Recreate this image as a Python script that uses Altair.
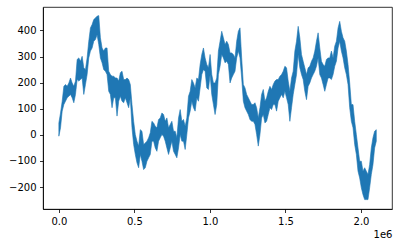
import altair as alt
import pandas as pd

# sample positions (thousands of steps)
step_k = [
    0, 11, 22, 33, 44, 55, 66, 77, 88, 99, 110, 121, 132, 143, 154, 165, 176, 187, 198, 209,
    220, 231, 242, 253, 264, 275, 286, 297, 308, 319, 330, 341, 352, 363, 374, 385, 396, 407, 418, 429,
    440, 451, 462, 473, 484, 495, 506, 517, 528, 539, 550, 561, 572, 583, 594, 605, 616, 627, 638, 649,
    660, 671, 682, 693, 704, 715, 726, 737, 748, 759, 770, 781, 792, 803, 814, 825, 836, 847, 858, 869,
    880, 891, 902, 913, 924, 935, 946, 957, 968, 979, 990, 1001, 1012, 1023, 1034, 1045, 1056, 1067, 1078, 1089,
    1100, 1111, 1122, 1133, 1144, 1155, 1166, 1177, 1188, 1199, 1210, 1221, 1232, 1243, 1254, 1265, 1276, 1287, 1298, 1309,
    1320, 1331, 1342, 1353, 1364, 1375, 1386, 1397, 1408, 1419, 1430, 1441, 1452, 1463, 1474, 1485, 1496, 1507, 1518, 1529,
    1540, 1551, 1562, 1573, 1584, 1595, 1606, 1617, 1628, 1639, 1650, 1661, 1672, 1683, 1694, 1705, 1716, 1727, 1738, 1749,
    1760, 1771, 1782, 1793, 1804, 1815, 1826, 1837, 1848, 1859, 1870, 1881, 1892, 1903, 1914, 1925, 1936, 1947, 1958, 1969,
    1980, 1991, 2002, 2013, 2024, 2035, 2046, 2057, 2068, 2079, 2090, 2101,
]

# upper envelope of the walk in each sample window
walk_hi = [
    46, 84, 129, 186, 193, 186, 199, 218, 199, 186, 206, 289, 295, 282, 301, 257, 250, 295, 359, 410,
    423, 442, 448, 455, 457, 372, 333, 321, 333, 333, 244, 231, 225, 225, 218, 218, 206, 238, 244, 212,
    212, 218, 212, 193, 116, 52, 1, -24,
    -43, 20, 14, -37, -31, -24, -11, 8, 52, 46, 33, 27, 59, 65, 84, 78, 52, 65, 27, 40,
    52, 14, 14, -11, 65, 97, 52, 59, 33, 65, 148, 167, 212, 199, 180, 218, 212, 270, 308, 333,
    295, 270, 257, 308, 231, 199, 199, 218,
    321, 359, 397, 372, 346, 359, 346, 314, 314, 308, 295, 359, 397, 410, 295, 193, 180, 155, 142, 129,
    116, 116, 123, 104, 65, 104, 155, 174, 129, 142, 167, 186, 174, 193, 206, 212, 212, 225, 231, 244,
    263, 257, 206, 167, 218, 244, 321, 359,
    416, 372, 308, 282, 257, 231, 257, 263, 282, 295, 321, 359, 391, 333, 282, 270, 263, 289, 295, 295,
    321, 295, 340, 359, 410, 435, 397, 372, 359, 321, 270, 199, 116, 116, 52, 1, -50, -101, -101, -139,
    -126, -139, -152, -114, -50, -11, 14, 20,
]

# lower envelope of the walk in each sample window
walk_lo = [
    -5, 27, 91, 116, 129, 142, 148, 155, 142, 123, 155, 212, 206, 212, 218, 155, 193, 231, 295, 321,
    333, 359, 365, 384, 346, 295, 276, 250, 244, 231, 167, 155, 104, 142, 142, 72, 129, 148, 129, 123,
    142, 123, 104, 142, 27, -37, -75, -107,
    -126, -75, -101, -133, -126, -101, -88, -75, -24, -24, -50, -63, -24, -11, 1, -5, -24, -50, -75, -50,
    -24, -63, -75, -88, -50, 1, -24, -24, -56, 1, 65, 91, 129, 104, 91, 142, 129, 180, 231, 250,
    244, 180, 174, 231, 155, 116, 78, 116,
    231, 263, 308, 295, 276, 282, 270, 199, 218, 231, 244, 295, 321, 295, 218, 129, 104, 91, 78, 59,
    52, 52, 40, 1, -43, 1, 65, 78, 46, 52, 78, 104, 97, 116, 116, 91, 129, 142, 155, 142,
    167, 142, 116, 52, 104, 155, 193, 231,
    308, 257, 231, 212, 167, 135, 186, 199, 218, 231, 244, 263, 295, 231, 218, 193, 167, 193, 218, 218,
    212, 231, 263, 282, 333, 359, 321, 295, 257, 231, 193, 104, 52, 27, -37, -75, -139, -165, -203, -229,
    -248, -248, -248, -203, -152, -114, -50, -24,
]

x_ticks = [0, 500000, 1000000, 1500000, 2000000]
y_ticks = [-200, -100, 0, 100, 200, 300, 400]

df = pd.DataFrame({
    "t": [k * 1000 for k in step_k],
    "hi": walk_hi,
    "lo": walk_lo,
})

W, H = 349, 202
font = "DejaVu Sans"

chart = alt.Chart(df).mark_area(
    color="#1f77b4", stroke="#1f77b4", strokeWidth=0.6, opacity=1
).encode(
    x=alt.X(
        "t:Q",
        scale=alt.Scale(domain=[-105000, 2205000], nice=False, zero=False),
        axis=alt.Axis(
            values=x_ticks,
            labelExpr="format(datum.value / 1000000, '.1f')",
            title="1e6",
            titleX=W,
            titleY=25,
            titleAlign="right",
            titleBaseline="middle",
            titleFontWeight="normal",
            titleFontSize=10,
            titleFont=font,
            titleColor="black",
        ),
    ),
    y=alt.Y(
        "hi:Q",
        scale=alt.Scale(domain=[-284, 490], nice=False, zero=False),
        axis=alt.Axis(values=y_ticks, title=None),
    ),
    y2="lo:Q",
).properties(
    width=W,
    height=H,
    autosize=alt.AutoSizeParams(type="none"),
    padding={"left": 43, "top": 7, "right": 7, "bottom": 38},
).configure_view(
    stroke="black", strokeWidth=0.8
).configure_axis(
    grid=False,
    domain=True,
    domainColor="black",
    domainWidth=0.8,
    tickColor="black",
    tickWidth=0.8,
    tickSize=3.5,
    labelFont=font,
    labelFontSize=10,
    labelColor="black",
    labelPadding=3.5,
)

chart.save("out.html", embed_options={"renderer": "svg", "actions": False})
